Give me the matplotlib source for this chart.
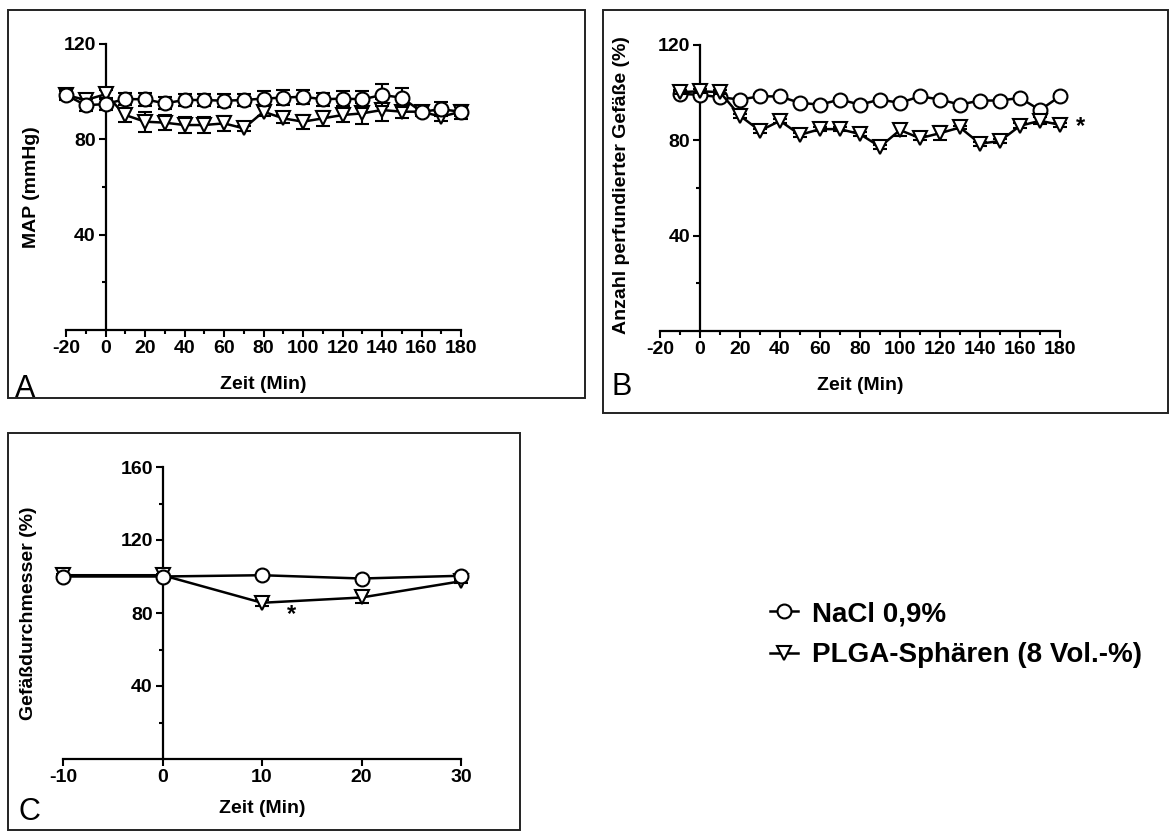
import matplotlib
matplotlib.use("Agg")
import matplotlib.pyplot as plt
from matplotlib.patches import Rectangle

plt.rcParams['font.family'] = ['Liberation Sans', 'DejaVu Sans']
plt.rcParams['font.weight'] = 'bold'
plt.rcParams['axes.labelweight'] = 'bold'
plt.rcParams['axes.unicode_minus'] = False

# --- data ---
# A: mean arterial pressure
time_a = [-20, -10, 0, 10, 20, 30, 40, 50, 60, 70, 80, 90, 100, 110, 120, 130, 140, 150, 160, 170, 180]
map_nacl = [98.6, 94.3, 94.8, 96.9, 96.8, 95.1, 96.5, 96.5, 96.2, 96.5, 97.1, 97.5, 97.9, 96.8, 97.1, 96.8, 98.6, 97.5, 91.6, 92.6, 91.6]
map_nacl_err = [2, 2.5, 2.5, 2.5, 2.8, 2.5, 2.5, 2.5, 2.8, 2.5, 3, 3, 3, 2.8, 3.2, 3.5, 4.5, 4, 1.5, 3, 3]
map_plga = [98.6, 96.5, 98.9, 90.2, 87.4, 87.0, 86.0, 86.0, 86.7, 84.6, 91.6, 88.8, 87.4, 88.8, 90.2, 90.9, 92.3, 91.6, 91.6, 89.5, 91.6]
map_plga_err = [1.5, 2, 2, 3.1, 4.2, 3, 3.5, 3.5, 3, 1, 2, 2, 3, 3, 3, 4.5, 4.5, 2.5, 2, 2, 2]

# B: perfused vessels
time_b = [-10, 0, 10, 20, 30, 40, 50, 60, 70, 80, 90, 100, 110, 120, 130, 140, 150, 160, 170, 180]
perf_nacl = [99.5, 99.1, 98.1, 97.1, 98.5, 98.4, 95.7, 95.0, 97.1, 95.0, 97.1, 95.7, 98.5, 97.1, 95.0, 96.7, 96.7, 97.8, 92.7, 98.5]
perf_nacl_err = [0.8] * 20
perf_plga = [100.2, 100.6, 100.2, 90.3, 84.0, 88.2, 82.3, 84.7, 84.7, 82.6, 77.3, 84.3, 80.9, 83.0, 85.4, 78.6, 79.7, 86.1, 88.2, 86.5]
perf_plga_err = [0.8, 0.8, 0.8, 0.8, 0.8, 0.8, 0.8, 0.8, 0.8, 0.8, 0.8, 2.5, 0.8, 3, 0.8, 0.8, 0.8, 1, 1.5, 0.8]

# C: vessel diameter
time_c = [-10, 0, 10, 20, 30]
diam_nacl = [100.0, 100.0, 100.7, 98.9, 100.4]
diam_nacl_err = [0.5, 0.5, 0.5, 0.5, 0.5]
diam_plga = [100.7, 100.7, 85.6, 88.5, 97.4]
diam_plga_err = [0.5, 0.5, 1.5, 3, 0.8]

labels = ['NaCl 0,9%', 'PLGA-Sphären (8 Vol.-%)']

W, H = 1174, 833
fig = plt.figure(figsize=(W / 100, H / 100), dpi=100)
fig.patch.set_facecolor('white')


def px_axes(left, right, top, bottom):
    # pixel box -> figure fraction
    return fig.add_axes([left / W, 1 - bottom / H, (right - left) / W, (bottom - top) / H])


def series(ax, t, y, err, marker, z):
    c = ax.errorbar(t, y, yerr=err, fmt='-' + marker, color='black', mfc='white', mec='black',
                    ms=10, mew=1.5, lw=1.8, elinewidth=1.5, capsize=5, capthick=1.5, zorder=z)
    for a in c.get_children():
        a.set_clip_on(False)
    return c[0]


def style(ax, xlim, ylim, xmaj, xmin, ymaj, ymin):
    ax.set_xlim(*xlim)
    ax.set_ylim(*ylim)
    ax.spines['left'].set_position(('data', 0))
    ax.spines['top'].set_visible(False)
    ax.spines['right'].set_visible(False)
    for s in ('left', 'bottom'):
        ax.spines[s].set_linewidth(1.6)
    ax.set_xticks(xmaj)
    ax.set_xticks(xmin, minor=True)
    ax.set_yticks(ymaj)
    ax.set_yticks(ymin, minor=True)
    ax.tick_params(which='major', direction='out', length=5, width=1.5, labelsize=14, pad=2)
    ax.tick_params(which='minor', direction='out', length=3, width=1.5)
    ax.patch.set_alpha(0)


def box(x0, y0, x1, y1):
    fig.add_artist(Rectangle((x0 / W, 1 - y1 / H), (x1 - x0) / W, (y1 - y0) / H,
                             transform=fig.transFigure, fill=False, lw=1.4, ec='#222222'))


box(8, 10, 585, 398)
box(603, 10, 1168, 413)
box(8, 433, 520, 830)

# panel A
ax_a = px_axes(66, 461, 44, 330)
series(ax_a, time_a, map_plga, map_plga_err, 'v', 3)
series(ax_a, time_a, map_nacl, map_nacl_err, 'o', 4)
style(ax_a, (-20, 180), (0, 120), range(-20, 181, 20), range(-10, 180, 20), [40, 80, 120], [20, 60, 100])
ax_a.set_ylabel('MAP (mmHg)', fontsize=14)
ax_a.yaxis.set_label_coords(-0.066, 0.5)
ax_a.set_xlabel('Zeit (Min)', fontsize=14)
ax_a.xaxis.set_label_coords(0.5, -0.16)
fig.text(15 / W, 1 - 397 / H, 'A', fontsize=22, fontweight='normal', va='baseline')

# panel B
ax_b = px_axes(660, 1060, 45, 331)
hn = series(ax_b, time_b, perf_nacl, perf_nacl_err, 'o', 3)
hp = series(ax_b, time_b, perf_plga, perf_plga_err, 'v', 4)
style(ax_b, (-20, 180), (0, 120), range(-20, 181, 20), range(-10, 180, 20), [40, 80, 120], [20, 60, 100])
ax_b.text(190, 86, '*', fontsize=17, ha='center', va='center')
ax_b.set_ylabel('Anzahl perfundierter Gefäße (%)', fontsize=14)
ax_b.yaxis.set_label_coords(-0.075, 0.51)
ax_b.set_xlabel('Zeit (Min)', fontsize=14)
ax_b.xaxis.set_label_coords(0.5, -0.16)
fig.text(612 / W, 1 - 395 / H, 'B', fontsize=22, fontweight='normal', va='baseline')

# panel C
ax_c = px_axes(63, 461, 467, 759)
series(ax_c, time_c, diam_plga, diam_plga_err, 'v', 3)
series(ax_c, time_c, diam_nacl, diam_nacl_err, 'o', 4)
style(ax_c, (-10, 30), (0, 160), [-10, 0, 10, 20, 30], [], [40, 80, 120, 160], [20, 60, 100, 140])
ax_c.text(13, 79, '*', fontsize=17, ha='center', va='center')
ax_c.set_ylabel('Gefäßdurchmesser (%)', fontsize=14)
ax_c.yaxis.set_label_coords(-0.065, 0.5)
ax_c.set_xlabel('Zeit (Min)', fontsize=14)
ax_c.xaxis.set_label_coords(0.5, -0.14)
fig.text(18 / W, 1 - 820 / H, 'C', fontsize=22, fontweight='normal', va='baseline')

fig.legend([hn, hp], labels, loc='upper left', bbox_to_anchor=(745 / W, 1 - 576 / H),
           frameon=False, fontsize=20, handlelength=1.0, handletextpad=0.5, labelspacing=0.55)

fig.savefig('out.png', dpi=100, facecolor='white')
